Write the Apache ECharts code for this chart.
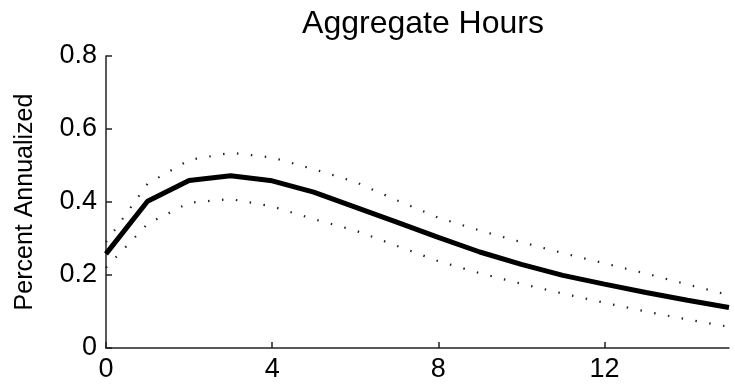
<!DOCTYPE html>
<html>
<head>
<meta charset="utf-8">
<script src="https://cdn.jsdelivr.net/npm/echarts@6/dist/echarts.min.js"></script>
<style>
  html, body { margin: 0; padding: 0; background: #fff; }
  #chart { width: 735px; height: 388px; }
</style>
</head>
<body>
<div id="chart"></div>
<script>
var horizons = [0, 1, 2, 3, 4, 5, 6, 7, 8, 9, 10, 11, 12, 13, 14, 15];
var response = [0.258, 0.402, 0.459, 0.472, 0.458, 0.427, 0.386, 0.345, 0.303, 0.263, 0.229, 0.199, 0.175, 0.152, 0.131, 0.111];
var upperBand = [0.29, 0.45, 0.515, 0.535, 0.522, 0.49, 0.455, 0.405, 0.357, 0.322, 0.29, 0.26, 0.232, 0.204, 0.174, 0.145];
var lowerBand = [0.22, 0.34, 0.398, 0.408, 0.388, 0.353, 0.322, 0.28, 0.238, 0.205, 0.176, 0.149, 0.124, 0.1, 0.078, 0.058];
var xTicks = [0, 4, 8, 12];

function pairs(ys) {
  return horizons.map(function (h, i) { return [h, ys[i]] })
}

var chart = echarts.init(document.getElementById('chart'))
var font = 'Liberation Sans, Arial, sans-serif'

var option = {
  animation: false,
  title: {
    text: 'Aggregate Hours',
    left: 418,
    top: 3,
    textAlign: 'center',
    textStyle: { fontFamily: font, fontSize: 32, fontWeight: 'normal', color: '#000' }
  },
  grid: { left: 106, right: 6, top: 56, bottom: 40 },
  xAxis: {
    type: 'value',
    min: 0,
    max: 15,
    splitLine: { show: false },
    axisLine: { lineStyle: { color: '#222', width: 1.5 } },
    axisTick: { inside: true, length: 6, customValues: xTicks, lineStyle: { color: '#222', width: 1.5 } },
    axisLabel: { customValues: xTicks, color: '#000', fontFamily: font, fontSize: 27, margin: 8 }
  },
  yAxis: {
    type: 'value',
    min: 0,
    max: 0.8,
    interval: 0.2,
    name: 'Percent Annualized',
    nameLocation: 'middle',
    nameGap: 68,
    nameTextStyle: { fontFamily: font, fontSize: 25, color: '#000' },
    splitLine: { show: false },
    axisLine: { show: true, lineStyle: { color: '#222', width: 1.5 } },
    axisTick: { show: true, inside: true, length: 6, lineStyle: { color: '#222', width: 1.5 } },
    axisLabel: {
      color: '#000', fontFamily: font, fontSize: 27, margin: 9,
      formatter: function (v) { return v === 0 ? '0' : v.toFixed(1) }
    }
  },
  series: [
    {
      type: 'line',
      data: pairs(upperBand),
      symbol: 'none',
      lineStyle: { color: '#222', width: 2.2, type: [1.5, 12.5] }
    },
    {
      type: 'line',
      data: pairs(lowerBand),
      symbol: 'none',
      lineStyle: { color: '#222', width: 2.2, type: [1.5, 12.5] }
    },
    {
      type: 'line',
      data: pairs(response),
      symbol: 'none',
      lineStyle: { color: '#000', width: 5 }
    }
  ]
}
chart.setOption(option)
</script>
</body>
</html>
